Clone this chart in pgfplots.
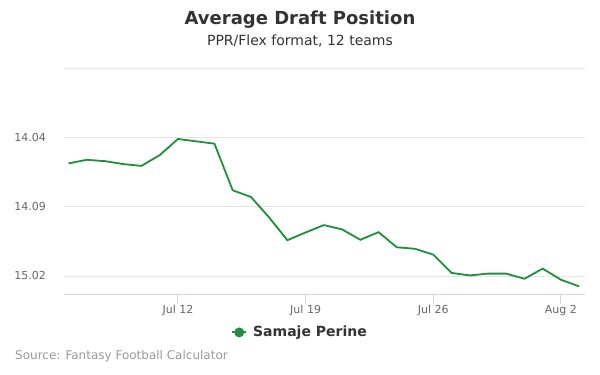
\documentclass[border=0pt]{standalone}
\usepackage{fontspec}
\setmainfont{DejaVu Sans}
\usepackage{pgfplots}
\pgfplotsset{compat=1.18}
\definecolor{linegreen}{HTML}{1F8E3D}
\definecolor{txt}{HTML}{333333}
\definecolor{ticktxt}{HTML}{666666}
\definecolor{gridc}{HTML}{E6E6E6}
\definecolor{axisc}{HTML}{CCD6EB}
\definecolor{srcc}{HTML}{999999}
\begin{document}
\begin{tikzpicture}
\path[use as bounding box] (0pt,0pt) rectangle (600pt,375pt);
\node[font=\fontsize{18}{21}\selectfont\bfseries, text=txt] at (300pt,355pt) {Average Draft Position};
\node[font=\fontsize{14}{16}\selectfont, text=txt] at (300pt,334.5pt) {PPR/Flex format, 12 teams};
\node[font=\fontsize{12}{14}\selectfont, text=srcc, anchor=west, inner sep=0pt] at (15pt,19pt) {Source: Fantasy Football Calculator};
\begin{axis}[
  at={(64pt,81pt)}, anchor=south west,
  scale only axis, width=521pt, height=226pt,
  xmin=5.75, xmax=34.32,
  ymin=155, ymax=171.3, y dir=reverse,
  axis x line*=bottom,
  x axis line style={draw=axisc, line width=1pt, -},
  axis y line*=left,
  y axis line style={draw=none},
  xtick={12,19,26,33},
  xticklabels={Jul 12,Jul 19,Jul 26,Aug 2},
  ytick={155,160,165,170},
  yticklabels={,14.04,14.09,15.02},
  ymajorgrids, grid style={draw=gridc, line width=0.8pt},
  tick align=outside,
  x tick style={draw=axisc, line width=1pt},
  major tick length=10pt,
  y tick style={draw=none},
  xticklabel style={font=\fontsize{11}{13}\selectfont, text=ticktxt, inner sep=0pt, yshift=-1pt},
  yticklabel style={font=\fontsize{11}{13}\selectfont, text=ticktxt, inner sep=0pt, xshift=-8pt},
  /pgf/number format/assume math mode=true,
  legend style={at={(0.453,-0.17)}, anchor=center, draw=none, fill=none,
    font=\fontsize{14}{16}\selectfont\bfseries, text=txt},
  legend image code/.code={
    \draw[linegreen, line width=2pt] (0pt,0pt) -- (14pt,0pt);
    \fill[linegreen] (7pt,0pt) circle (4pt);
    \path (18pt,0pt);
  },
  clip=false,
]
\addplot[linegreen, line width=1.8pt, mark=none] coordinates {
(6,161.88) (7,161.62) (8,161.72) (9,161.93) (10,162.06) (11,161.28) (12,160.12)
(13,160.29) (14,160.46) (15,163.82) (16,164.30) (17,165.78) (18,167.42) (19,166.86)
(20,166.33) (21,166.64) (22,167.39) (23,166.84) (24,167.93) (25,168.04) (26,168.46)
(27,169.78) (28,169.96) (29,169.83) (30,169.83) (31,170.20) (32,169.47) (33,170.27)
(34,170.75)
};
\addlegendentry{Samaje Perine}
\end{axis}
\end{tikzpicture}
\end{document}
